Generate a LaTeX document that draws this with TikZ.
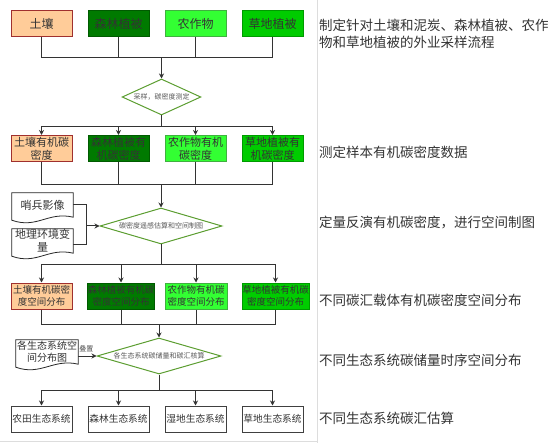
\documentclass[tikz,border=0pt]{standalone}
\usepackage{fontspec}
\setmainfont{Noto Sans CJK SC}
\usepackage{tikz}
\usetikzlibrary{shapes.geometric, arrows.meta, positioning}

\definecolor{soilfill}{HTML}{FFCC99}
\definecolor{soilline}{HTML}{A0302E}
\definecolor{forestfill}{HTML}{007A00}
\definecolor{forestline}{HTML}{005A00}
\definecolor{cropfill}{HTML}{33FF33}
\definecolor{cropline}{HTML}{40B040}
\definecolor{grassfill}{HTML}{00CC00}
\definecolor{grassline}{HTML}{009A00}
\definecolor{diamline}{HTML}{5C9E31}
\definecolor{sepline}{HTML}{DDDDDD}

\tikzset{
  box/.style={draw, line width=1pt, minimum width=61pt, minimum height=26pt,
    inner sep=0pt, align=center, text=black!80},
  soilbox/.style={box, fill=soilfill, draw=soilline},
  forestbox/.style={box, fill=forestfill, draw=forestline},
  cropbox/.style={box, fill=cropfill, draw=cropline},
  grassbox/.style={box, fill=grassfill, draw=grassline},
  ecobox/.style={box, fill=white, draw=black!75},
  decision/.style={diamond, draw=diamline, line width=1pt, fill=white, inner sep=0pt,
    aspect=3.4, text=black!65, font=\fontsize{7}{8}\selectfont},
  doc/.style={minimum width=61pt, minimum height=24pt, inner sep=0pt, align=center,
    text=black!80},
  docedge/.style={draw=black!85, line width=0.8pt, fill=white},
  link/.style={draw=black!80, line width=1pt},
  flow/.style={link, -{Stealth[length=5pt,width=5pt]}},
  note/.style={anchor=west, align=left, inner sep=0pt, text=black!80,
    font=\fontsize{13.5}{17}\selectfont}
}

% wavy bottom of a document node
\newcommand{\docoutline}[1]{%
  \path[docedge] (#1.north west) -- (#1.north east) -- (#1.south east)
    .. controls ([xshift=-25pt,yshift=6pt]#1.south east)
    and ([xshift=25pt,yshift=-12pt]#1.south west) .. ([yshift=-3pt]#1.south west)
    -- cycle;}

\begin{document}
\begin{tikzpicture}[x=1pt, y=-1pt, node distance=77pt, on grid]
    \useasboundingbox (0,0) rectangle (553,443);
    \draw[sepline, line width=0.8pt] (317,0) -- (317,443);
    \draw[sepline, line width=0.8pt] (0,441.5) -- (317,441.5);

    % row 1: sample types
    \begin{scope}[every node/.append style={font=\fontsize{12}{14}\selectfont}]
    \node[soilbox] (soil) at (41.5,24) {土壤};
    \node[forestbox] (forest) [right=of soil] {森林植被};
    \node[cropbox] (crop) [right=of forest] {农作物};
    \node[grassbox] (grass) [right=of crop] {草地植被};
    \end{scope}

    \node[decision, minimum width=75pt, minimum height=36pt] (sample) at (161.5,97) {采样，碳密度测定};

    % row 2: measured density
    \begin{scope}[every node/.append style={font=\fontsize{11}{13}\selectfont, minimum height=27pt}]
    \node[soilbox] (soilSOC) at (41.5,148.5) {土壤有机碳\\密度};
    \node[forestbox] (forestSOC) [right=of soilSOC] {森林植被有\\机碳密度};
    \node[cropbox] (cropSOC) [right=of forestSOC] {农作物有机\\碳密度};
    \node[grassbox] (grassSOC) [right=of cropSOC] {草地植被有\\机碳密度};
    \end{scope}

    % remote sensing inputs
    \node[doc, font=\fontsize{11}{13}\selectfont] (sentinel) at (42.5,205) {哨兵影像};
    \node[doc, font=\fontsize{11}{13}\selectfont] (geovar) at (42.5,241) {地理环境变\\量};
    \docoutline{sentinel}
    \docoutline{geovar}
    \node[doc, font=\fontsize{11}{13}\selectfont] at (sentinel) {哨兵影像};
    \node[doc, font=\fontsize{11}{13}\selectfont] at (geovar) {地理环境变\\量};

    \node[decision, minimum width=122pt, minimum height=36pt] (invert) at (161,226) {碳密度遥感估算和空间制图};

    % row 3: spatial distribution
    \begin{scope}[every node/.append style={font=\fontsize{9.5}{12}\selectfont}]
    \node[soilbox] (soilMap) at (41.5,296) {土壤有机碳密\\度空间分布};
    \node[forestbox, minimum width=66pt] (forestMap) [right=79.5pt of soilMap] {森林植被有机碳\\密度空间分布};
    \node[cropbox, minimum width=62pt] (cropMap) [right=75pt of forestMap] {农作物有机碳\\密度空间分布};
    \node[grassbox, minimum width=67pt] (grassMap) [right=79.5pt of cropMap] {草地植被有机碳\\密度空间分布};
    \end{scope}

    \node[doc, minimum width=62pt, font=\fontsize{10}{12}\selectfont] (ecomap) at (47,352) {各生态系统空\\间分布图};
    \docoutline{ecomap}
    \node[doc, minimum width=62pt, font=\fontsize{10}{12}\selectfont] at (ecomap) {各生态系统空\\间分布图};

    \node[decision, minimum width=124pt, minimum height=36pt] (account) at (159,356) {各生态系统碳储量和碳汇核算};

    % row 4: ecosystems
    \begin{scope}[every node/.append style={font=\fontsize{9.7}{12}\selectfont}]
    \node[ecobox] (farmEco) at (41.5,419) {农田生态系统};
    \node[ecobox] (forestEco) [right=of farmEco] {森林生态系统};
    \node[ecobox] (wetEco) [right=of forestEco] {湿地生态系统};
    \node[ecobox] (grassEco) [right=of wetEco] {草地生态系统};
    \end{scope}

    % junctions
    \coordinate (j1) at (161.5,58);
    \coordinate (j2) at (161.5,127);
    \coordinate (j3) at (161,185);
    \coordinate (j4) at (86,226);
    \coordinate (j5) at (161,264);
    \coordinate (j6) at (159,324);
    \coordinate (j7) at (159,390);

    \foreach \n in {soil, forest, crop, grass}
        \draw[link] (\n.south) |- (j1);
    \draw[flow] (j1) -- (sample.north);

    \draw[link] (sample.south) -- (j2);
    \foreach \n in {soilSOC, forestSOC, cropSOC, grassSOC}
        \draw[flow] (j2) -| (\n.north);

    \foreach \n in {soilSOC, forestSOC, cropSOC, grassSOC}
        \draw[link] (\n.south) |- (j3);
    \draw[flow] (j3) -- (invert.north);

    \draw[link] (sentinel.east) -| (j4);
    \draw[link] ([yshift=-4pt]geovar.east) -| (j4);
    \draw[flow] (j4) -- (invert.west);

    \draw[link] (invert.south) -- (j5);
    \foreach \n in {soilMap, forestMap, cropMap, grassMap}
        \draw[flow] (j5) -| (\n.north);

    \foreach \n in {soilMap, forestMap, cropMap, grassMap}
        \draw[link] (\n.south) |- (j6);
    \draw[flow] (j6) -- (account.north);

    \draw[flow] (ecomap.east |- account.west) -- node[above, font=\fontsize{7}{8}\selectfont, text=black!70, pos=0.45] {叠置} (account.west);

    \draw[link] (account.south) -- (j7);
    \foreach \n in {farmEco, forestEco, wetEco, grassEco}
        \draw[flow] (j7) -| (\n.north);

    % step notes
    \node[note] (note1) at (319,33.5) {制定针对土壤和泥炭、森林植被、农作\\物和草地植被的外业采样流程};
    \node[note] (note2) at (319,152) {测定样本有机碳密度数据};
    \node[note] (note3) at (319,222) {定量反演有机碳密度，进行空间制图};
    \node[note] (note4) at (319,300) {不同碳汇载体有机碳密度空间分布};
    \node[note] (note5) at (319,360) {不同生态系统碳储量时序空间分布};
    \node[note] (note6) at (319,418) {不同生态系统碳汇估算};

\end{tikzpicture}
\end{document}
